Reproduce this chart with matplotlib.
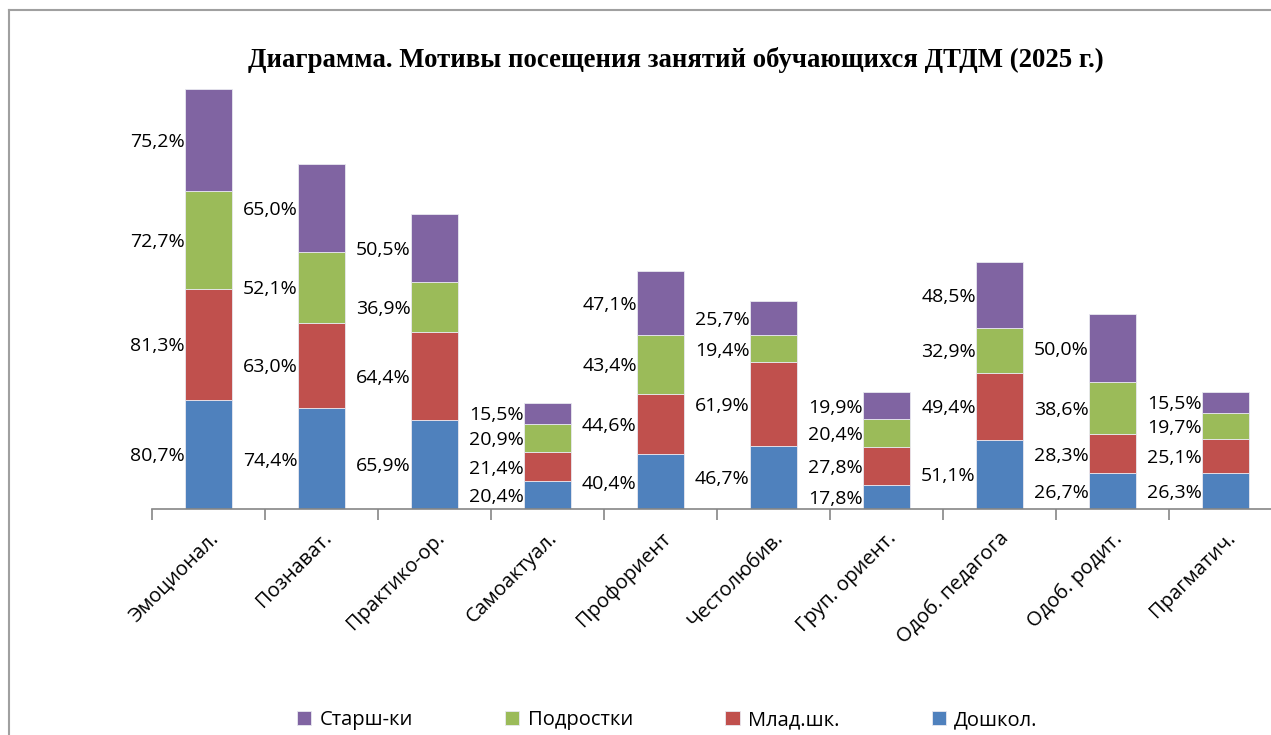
import matplotlib.pyplot as plt
import numpy as np
from matplotlib.lines import Line2D

categories = ['Эмоционал.', 'Познават.', 'Практико-ор.', 'Самоактуал.', 'Профориент',
              'Честолюбив.', 'Груп. ориент.', 'Одоб. педагога', 'Одоб. родит.', 'Прагматич.']
doshkol = [80.7, 74.4, 65.9, 20.4, 40.4, 46.7, 17.8, 51.1, 26.7, 26.3]
mlad = [81.3, 63.0, 64.4, 21.4, 44.6, 61.9, 27.8, 49.4, 28.3, 25.1]
podr = [72.7, 52.1, 36.9, 20.9, 43.4, 19.4, 20.4, 32.9, 38.6, 19.7]
starsh = [75.2, 65.0, 50.5, 15.5, 47.1, 25.7, 19.9, 48.5, 50.0, 15.5]

series = [('Дошкол.', doshkol, '#4F81BD'),
          ('Млад.шк.', mlad, '#C0504D'),
          ('Подростки', podr, '#9BBB59'),
          ('Старш-ки', starsh, '#8064A2')]

plt.rcParams['font.family'] = ['Open Sans', 'DejaVu Sans']

fig = plt.figure(figsize=(12.71, 7.35), dpi=100)
ax = fig.add_axes([152 / 1271, 226 / 735, 1130 / 1271, 434 / 735])

x = np.arange(len(categories))
width = 0.41
bottom = np.zeros(len(categories))
handles = {}
for name, vals, color in series:
    vals = np.array(vals)
    b = ax.bar(x, vals, width, bottom=bottom, color=color, edgecolor='#e8e8f0', linewidth=0.6)
    handles[name] = b
    for xi, v, b0 in zip(x, vals, bottom):
        ax.text(xi - width / 2 - 0.005, b0 + v / 2 - 1.5, f'{v:.1f}%'.replace('.', ','),
                ha='right', va='center', fontsize=14, color='black')
    bottom += vals

ax.set_xlim(-0.5, len(categories) - 0.5)
ax.set_ylim(0, 320)
ax.set_yticks([])
for s in ['top', 'right', 'left']:
    ax.spines[s].set_visible(False)
ax.spines['bottom'].set_color('#868686')
ax.spines['bottom'].set_linewidth(1.2)
ax.set_xticks(x)
ax.set_xticklabels(categories, rotation=45, ha='right', rotation_mode='anchor', fontsize=14.5)
ax.tick_params(axis='x', which='major', length=0, pad=14)
ax.set_xticks(np.arange(len(categories) + 1) - 0.5, minor=True)
ax.tick_params(axis='x', which='minor', length=8, color='#868686', width=1.2)

fig.text(0.532, 0.918, 'Диаграмма. Мотивы посещения занятий обучающихся ДТДМ (2025 г.)',
         ha='center', va='center', fontsize=19.3, fontweight='bold', family='Liberation Serif')

order = ['Старш-ки', 'Подростки', 'Млад.шк.', 'Дошкол.']
fig.legend([handles[n] for n in order], order, loc='center', bbox_to_anchor=(0.525, 0.02),
           ncol=4, frameon=False, fontsize=14.5, handlelength=0.7, handleheight=0.7,
           columnspacing=4.6, handletextpad=0.4)

fig.add_artist(Line2D([9 / 1271, 9 / 1271], [0, 1 - 10 / 735], color='#a0a0a0', lw=1.5,
                      transform=fig.transFigure))
fig.add_artist(Line2D([9 / 1271, 1], [1 - 10 / 735, 1 - 10 / 735], color='#a0a0a0', lw=1.5,
                      transform=fig.transFigure))

fig.savefig('out.png', dpi=100)
